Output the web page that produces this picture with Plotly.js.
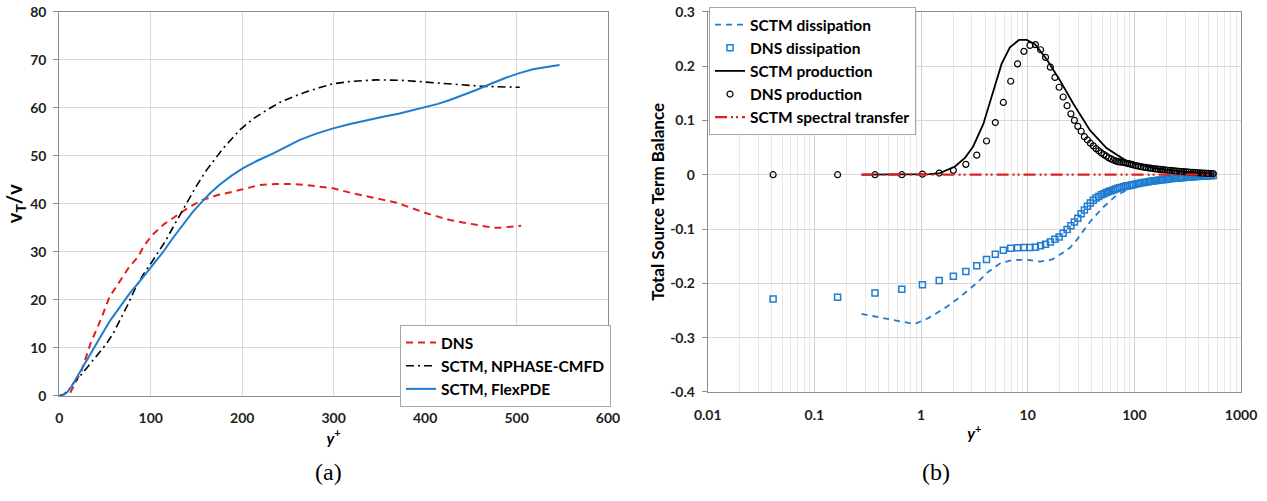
<!DOCTYPE html>
<html><head><meta charset="utf-8">
<script src="https://cdn.plot.ly/plotly-3.0.1.min.js"></script>
<style>html,body{margin:0;padding:0;background:#fff}#chart{width:1267px;height:501px}</style>
</head><body><div id="chart"></div>
<script>
// ---------- Panel (a): nu_T / nu vs y+ ----------
const dnsA_x = [12, 18, 24.5, 34, 45, 55, 66.5, 76, 86, 92, 101, 115, 132, 145, 157, 175, 190, 205, 219, 237, 256, 270, 281, 299.5, 318, 336, 352, 369, 385, 401.5, 414, 427, 441, 456, 466, 474, 482, 489, 497, 505];
const dnsA_y = [0.6, 2.7, 5.3, 10.8, 15.7, 20.6, 24, 26.7, 28.9, 31, 33.4, 35.8, 38, 39.6, 40.8, 41.9, 42.5, 43.3, 43.9, 44.1, 44.1, 43.9, 43.6, 43.2, 42.3, 41.5, 40.9, 40.2, 39.1, 38, 37.3, 36.6, 36.1, 35.6, 35.2, 35, 35, 35.1, 35.2, 35.4];
const nphase_x = [0, 5, 10, 15, 25, 34, 43, 51.5, 59, 66.5, 75, 83.7, 92, 101, 108, 116, 127, 139, 150, 161, 179, 197.5, 212, 226.7, 241, 256, 270, 285, 299.5, 320, 347, 375, 401.5, 425, 445, 460, 474, 490, 503.5];
const nphase_y = [0, 0.3, 1.1, 2.5, 4.6, 6.7, 8.7, 10.8, 13, 15.7, 19, 22.6, 25.3, 27.8, 29.8, 32.2, 36, 40.1, 43.7, 47, 51.5, 55.4, 57.7, 59.5, 61.1, 62.3, 63.3, 64.2, 65, 65.5, 65.8, 65.7, 65.3, 65, 64.7, 64.5, 64.4, 64.3, 64.25];
const flex_x = [0, 4.3, 8, 13, 17, 21.5, 30, 38.6, 47, 55.8, 66, 77, 89, 101, 113.7, 124, 135.5, 146, 157.4, 166, 175.6, 188, 201, 217, 234, 248, 263, 281, 299.5, 318, 336, 354, 372, 387, 401.5, 414, 427, 441, 456, 472, 489, 503, 518, 533, 547];
const flex_y = [0, 0.1, 0.6, 1.8, 3.1, 4.6, 7.4, 10.1, 12.9, 15.7, 18.5, 21.3, 24.1, 26.9, 30.0, 32.8, 35.7, 38.3, 40.7, 42.4, 44.0, 45.8, 47.4, 49, 50.5, 51.9, 53.3, 54.6, 55.7, 56.6, 57.4, 58.1, 58.8, 59.5, 60.1, 60.8, 61.6, 62.6, 63.7, 65, 66.3, 67.2, 68, 68.5, 68.9];
const namesA = ['DNS', 'SCTM, NPHASE-CMFD', 'SCTM, FlexPDE'];
const xTicksA = [0, 100, 200, 300, 400, 500, 600];
const yTicksA = [0, 10, 20, 30, 40, 50, 60, 70, 80];

// ---------- Panel (b): source term balance vs y+ (log) ----------
const dnsB_x = [0.041, 0.165, 0.37, 0.66, 1.03, 1.48, 2.01, 2.63, 3.33, 4.11, 4.97, 5.91, 6.93, 8.03, 9.21, 10.5, 11.8, 13.2, 14.7, 16.3, 18.0, 19.7, 21.5, 23.4, 25.4, 27.4, 29.5, 31.7, 34.0,
  36.3, 38.7, 41.2, 43.7, 46.3, 49.0, 51.8, 54.6, 57.5, 60.5, 63.5, 66.6, 69.8, 73.0, 76.3, 79.7, 83.1, 86.6, 90.2, 93.8, 97.5,
  103, 109, 115, 121, 128, 135, 142, 150, 158, 166, 175, 184, 194, 204, 215, 226, 238, 250, 263, 277, 291, 306, 322, 338, 355, 373, 392, 411, 431, 452, 474, 497, 522, 548];
const dnsProd_y = [0, 0, 0, 0, 0.001, 0.003, 0.008, 0.019, 0.036, 0.062, 0.096, 0.133, 0.172, 0.204, 0.227, 0.238, 0.2395, 0.230, 0.216, 0.198, 0.179, 0.161, 0.143, 0.127, 0.112, 0.100, 0.089, 0.080, 0.070,
  0.064, 0.058, 0.053, 0.048, 0.044, 0.040, 0.037, 0.034, 0.031, 0.029, 0.027, 0.0255, 0.024, 0.0235, 0.023, 0.0225, 0.0215, 0.0205, 0.020, 0.019, 0.018,
  0.0168, 0.0158, 0.0149, 0.0141, 0.0133, 0.0126, 0.0119, 0.0113, 0.0107, 0.0102, 0.0097, 0.0092, 0.0087, 0.0082, 0.0078, 0.0074, 0.0070, 0.0066, 0.0062, 0.0058, 0.0055, 0.0051, 0.0048, 0.0045, 0.0042, 0.0039, 0.0036, 0.0033, 0.0031, 0.0028, 0.0026, 0.0024, 0.0022, 0.002];
const dnsDiss_y = [-0.229, -0.2255, -0.218, -0.211, -0.2025, -0.195, -0.187, -0.178, -0.1676, -0.156, -0.1465, -0.139, -0.1355, -0.1345, -0.134, -0.134, -0.1335, -0.131, -0.128, -0.124, -0.119, -0.1145, -0.108, -0.101, -0.094, -0.087, -0.080, -0.072, -0.065,
  -0.058, -0.052, -0.047, -0.043, -0.040, -0.037, -0.035, -0.033, -0.031, -0.0295, -0.028, -0.0265, -0.025, -0.024, -0.023, -0.022, -0.021, -0.0205, -0.0197, -0.019, -0.0183,
  -0.0173, -0.0163, -0.0154, -0.0146, -0.0138, -0.013, -0.0123, -0.0116, -0.011, -0.0104, -0.0098, -0.0092, -0.0087, -0.0082, -0.0077, -0.0072, -0.0067, -0.0063, -0.0059, -0.0055, -0.0051, -0.0047, -0.0044, -0.0041, -0.0038, -0.0035, -0.0032, -0.0029, -0.0027, -0.0024, -0.0022, -0.002, -0.0018, -0.0015];
const sctmProd_x = [0.277, 0.4, 0.6, 0.9, 1.2, 1.5, 2.08, 2.58, 3.08, 3.83, 4.75, 5.69, 6.81, 8.28, 9.77, 11.7, 15.0, 20, 26.7, 38.3, 54.8, 84.5, 150, 267, 548];
const sctmProd_y = [0, 0, 0, 0.0005, 0.001, 0.003, 0.015, 0.031, 0.052, 0.093, 0.154, 0.204, 0.2345, 0.248, 0.248, 0.240, 0.213, 0.174, 0.131, 0.082, 0.049, 0.025, 0.0125, 0.0065, 0.001];
const sctmDiss_x = [0.277, 0.494, 0.867, 1.17, 1.66, 2.34, 3.30, 4.28, 5.54, 7.18, 10.1, 13.1, 17.0, 22.0, 25.0, 28.6, 35.6, 38.3, 51, 68, 90, 130, 250, 548];
const sctmDiss_y = [-0.2563, -0.266, -0.275, -0.264, -0.246, -0.2245, -0.20, -0.1786, -0.163, -0.157, -0.157, -0.160, -0.156, -0.142, -0.134, -0.121, -0.096, -0.087, -0.060, -0.038, -0.026, -0.0154, -0.006, -0.001];
const spec_x = [0.277, 1, 10, 100, 548];
const spec_y = [0, 0, 0, 0, 0];
const namesB = ['SCTM dissipation', 'DNS dissipation', 'SCTM production', 'DNS production', 'SCTM spectral transfer'];
const xTicksB = [0.01, 0.1, 1, 10, 100, 1000];
const xTextB = ['0.01', '0.1', '1', '10', '100', '1000'];
const yTicksB = [-0.4, -0.3, -0.2, -0.1, 0, 0.1, 0.2, 0.3];
const yTextB = ['-0.4', '-0.3', '-0.2', '-0.1', '0', '0.1', '0.2', '0.3'];

const RED = '#e0201e', BLUE = '#1f7ccf', BLACK = '#000000';
const tickFont = {family: 'Lato, sans-serif', size: 14, color: '#1e1e1e', weight: 700};
const legFont = {family: 'Lato, sans-serif', size: 15.5, color: '#000', weight: 700};

const traces = [
  {x: dnsA_x, y: dnsA_y, name: namesA[0], mode: 'lines', line: {color: RED, width: 2, dash: '7px,5px'}, xaxis: 'x', yaxis: 'y', legend: 'legend'},
  {x: nphase_x, y: nphase_y, name: namesA[1], mode: 'lines', line: {color: BLACK, width: 1.6, dash: '8px,4px,2px,4px'}, xaxis: 'x', yaxis: 'y', legend: 'legend'},
  {x: flex_x, y: flex_y, name: namesA[2], mode: 'lines', line: {color: BLUE, width: 2}, xaxis: 'x', yaxis: 'y', legend: 'legend'},

  {x: sctmDiss_x, y: sctmDiss_y, name: namesB[0], mode: 'lines', line: {color: BLUE, width: 1.8, dash: '6px,5px'}, xaxis: 'x2', yaxis: 'y2', legend: 'legend2'},
  {x: dnsB_x, y: dnsDiss_y, name: namesB[1], mode: 'markers', marker: {symbol: 'square-open', size: 6, color: BLUE, line: {width: 1.5}}, xaxis: 'x2', yaxis: 'y2', legend: 'legend2'},
  {x: sctmProd_x, y: sctmProd_y, name: namesB[2], mode: 'lines', line: {color: BLACK, width: 1.8}, xaxis: 'x2', yaxis: 'y2', legend: 'legend2'},
  {x: dnsB_x, y: dnsProd_y, name: namesB[3], mode: 'markers', marker: {symbol: 'circle-open', size: 6, color: BLACK, line: {width: 1.2}}, xaxis: 'x2', yaxis: 'y2', legend: 'legend2'},
  {x: spec_x, y: spec_y, name: namesB[4], mode: 'lines', line: {color: RED, width: 2.2, dash: '12px,4px,2px,3px,2px,4px'}, xaxis: 'x2', yaxis: 'y2', legend: 'legend2'}
];

const gridC = '#d9d9d9', lineC = '#8c8c8c';
const layout = {
  width: 1267, height: 501,
  margin: {l: 0, r: 0, t: 0, b: 0},
  paper_bgcolor: '#fff', plot_bgcolor: '#fff',
  showlegend: true,
  xaxis: {domain: [0.0468, 0.4799], range: [0, 600], tickvals: xTicksA, showgrid: true, gridcolor: gridC, gridwidth: 1,
    showline: true, linecolor: lineC, mirror: true, zeroline: false, ticks: '', ticklabelstandoff: 10, tickfont: tickFont, automargin: false,
    title: {text: '<i>y</i><sup>+</sup>', font: {family: 'Lato, sans-serif', size: 16, color: '#000', weight: 700}, standoff: 6}},
  yaxis: {domain: [0.2102, 0.9766], range: [0, 80], tickvals: yTicksA, showgrid: true, gridcolor: gridC,
    showline: true, linecolor: lineC, mirror: true, zeroline: false, ticks: 'outside', ticklen: 5, tickcolor: lineC, ticklabelstandoff: 4, tickfont: tickFont, automargin: false,
    title: {text: 'v<sub>T</sub>/v', font: {family: 'Lato, sans-serif', size: 20, color: '#000', weight: 700}, standoff: 2}},
  xaxis2: {domain: [0.5586, 0.9795], type: 'log', range: [-2, 3], tickvals: xTicksB, ticktext: xTextB, showgrid: true, gridcolor: '#cfcfcf',
    minor: {showgrid: true, gridcolor: '#e8e8e8', dtick: 'D1', ticks: ''},
    showline: true, linecolor: lineC, mirror: true, zeroline: false, ticks: '', ticklabelstandoff: 10, tickfont: tickFont, automargin: false, anchor: 'y2',
    title: {text: '<i>y</i><sup>+</sup>', font: {family: 'Lato, sans-serif', size: 16, color: '#000', weight: 700}, standoff: 6}},
  yaxis2: {domain: [0.2176, 0.9766], range: [-0.4, 0.3], tickvals: yTicksB, ticktext: yTextB, showgrid: true, gridcolor: gridC,
    showline: true, linecolor: lineC, mirror: true, zeroline: false, ticks: 'outside', ticklen: 5, tickcolor: lineC, ticklabelstandoff: 4, tickfont: tickFont, automargin: false, anchor: 'x2',
    title: {text: 'Total Source Term Balance', font: {family: 'Lato, sans-serif', size: 17, color: '#000', weight: 700}, standoff: 1}},
  legend: {x: 0.3157, y: 0.3513, xanchor: 'left', yanchor: 'top', bgcolor: '#fff', bordercolor: '#a6a6a6', borderwidth: 1, font: legFont, tracegroupgap: 0, itemwidth: 30},
  legend2: {x: 0.5596, y: 0.986, xanchor: 'left', yanchor: 'top', bgcolor: '#fff', bordercolor: '#a6a6a6', borderwidth: 1, font: legFont, tracegroupgap: 0, itemwidth: 30},
  annotations: [
    {text: '(a)', x: 0.247, y: 0.028, xref: 'paper', yref: 'paper', showarrow: false, font: {family: 'Liberation Serif, serif', size: 24, color: '#000'}},
    {text: '(b)', x: 0.751, y: 0.028, xref: 'paper', yref: 'paper', showarrow: false, font: {family: 'Liberation Serif, serif', size: 24, color: '#000'}}
  ]
};

Plotly.newPlot('chart', traces, layout, {displayModeBar: false, responsive: false});
</script></body></html>
